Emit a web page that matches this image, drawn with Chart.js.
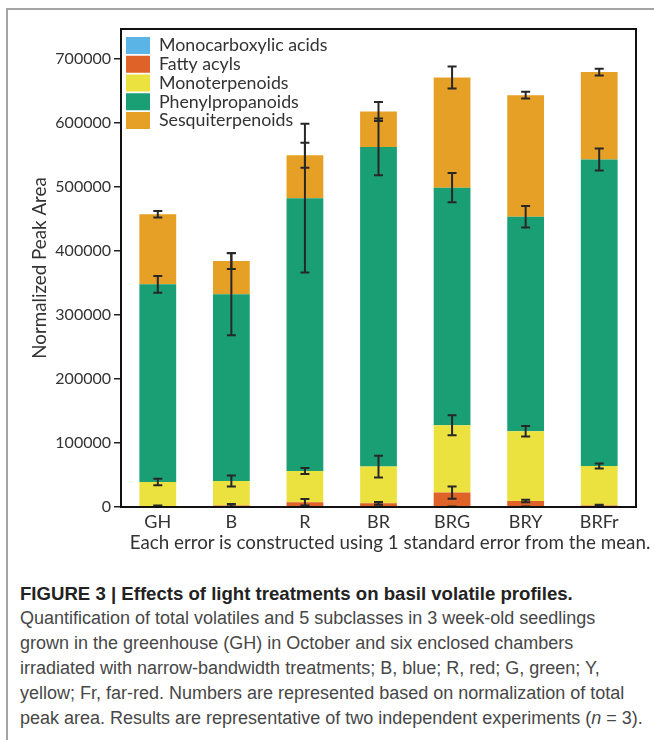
<!DOCTYPE html>
<html>
<head>
<meta charset="utf-8">
<script src="https://cdn.jsdelivr.net/npm/chart.js@4.4.1/dist/chart.umd.min.js"></script>
<style>
html,body{margin:0;padding:0;background:#fff;}
#page{position:relative;width:654px;height:740px;overflow:hidden;background:#fff;}
#frame{position:absolute;left:6px;top:8px;width:700px;height:760px;border-left:2px solid #a4a4a4;border-top:2px solid #a4a4a4;}
#wrap{position:absolute;left:0;top:0;width:654px;height:555px;}
#note{position:absolute;left:90px;width:600px;top:531px;text-align:center;font-family:Lato,sans-serif;font-size:18.8px;line-height:22px;color:#333;white-space:nowrap;}
#caption{position:absolute;left:20px;top:581.5px;font-family:"Liberation Sans",Arial,sans-serif;font-size:18px;line-height:24.9px;color:#474747;white-space:nowrap;}
#caption span{display:block;height:24.9px;}
#caption .t{font-weight:bold;color:#222;font-size:18.6px;}
</style>
</head>
<body>
<div id="page">
  <div id="frame"></div>
  <div id="wrap"><canvas id="c" width="654" height="555"></canvas></div>
  <div id="note">Each error is constructed using 1 standard error from the mean.</div>
  <div id="caption"><span class="t">FIGURE 3 | Effects of light treatments on basil volatile profiles.</span><span class="l">Quantification of total volatiles and 5 subclasses in 3 week-old seedlings</span><span class="l">grown in the greenhouse (GH) in October and six enclosed chambers</span><span class="l">irradiated with narrow-bandwidth treatments; B, blue; R, red; G, green; Y,</span><span class="l">yellow; Fr, far-red. Numbers are represented based on normalization of total</span><span class="l">peak area. Results are representative of two independent experiments (<i>n</i> = 3).</span></div>
</div>
<script>
// ---- data ----
const categories = ['GH', 'B', 'R', 'BR', 'BRG', 'BRY', 'BRFr'];
const seriesNames = ['Monocarboxylic acids', 'Fatty acyls', 'Monoterpenoids', 'Phenylpropanoids', 'Sesquiterpenoids'];

const monocarboxylicAcids = [300, 300, 300, 300, 300, 300, 300];
const fattyAcyls          = [700, 2200, 7000, 5500, 22200, 9100, 1900];
const monoterpenoids      = [38000, 38000, 49000, 57300, 105200, 108900, 61800];
const phenylpropanoids    = [308500, 291500, 425700, 498900, 370700, 334800, 478200];
const sesquiterpenoids    = [109500, 52000, 67000, 55200, 171900, 189700, 136500];

const errMonocarboxylicAcids = [300, 300, 300, 300, 300, 300, 300];
const errFattyAcyls          = [1500, 2300, 5000, 2000, 9600, 2000, 1500];
const errMonoterpenoids      = [5000, 8600, 4700, 17000, 15600, 8300, 3900];
const errPhenylpropanoids    = [13000, 64000, 116000, 44300, 22700, 16700, 17200];
const errSesquiterpenoids    = [5000, 12500, 19500, 14800, 17000, 5200, 5200];

const yTickValues = [0, 100000, 200000, 300000, 400000, 500000, 600000, 700000];
const yAxisMax = 746000;

const seriesColors = ['#5AB4E6', '#DF6228', '#EBE23F', '#1A9E74', '#E7A026'];

const seriesValues = [monocarboxylicAcids, fattyAcyls, monoterpenoids, phenylpropanoids, sesquiterpenoids];
const seriesErrors = [errMonocarboxylicAcids, errFattyAcyls, errMonoterpenoids, errPhenylpropanoids, errSesquiterpenoids];

const FONT = 'Lato, sans-serif';
const TXT = '#333333';

const errorBars = {
  id: 'errorBars',
  afterDatasetsDraw(chart) {
    const {ctx, chartArea: ca, scales: {x, y}} = chart;
    ctx.save();
    ctx.beginPath();
    ctx.rect(ca.left, ca.top - 30, ca.right - ca.left, ca.bottom - ca.top + 30);
    ctx.clip();
    ctx.strokeStyle = '#272727';
    ctx.lineWidth = 2;
    categories.forEach((c, i) => {
      let cum = 0;
      const px = x.getPixelForValue(i);
      seriesValues.forEach((vals, d) => {
        cum += vals[i];
        const e = seriesErrors[d][i];
        const yt = y.getPixelForValue(cum + e);
        const yb = y.getPixelForValue(cum - e);
        ctx.beginPath();
        ctx.moveTo(px, yt); ctx.lineTo(px, yb);
        ctx.moveTo(px - 4.5, yt); ctx.lineTo(px + 4.5, yt);
        ctx.moveTo(px - 4.5, yb); ctx.lineTo(px + 4.5, yb);
        ctx.stroke();
      });
    });
    ctx.restore();
  }
};

const frame = {
  id: 'frame',
  afterDraw(chart) {
    const {ctx, chartArea: ca} = chart;
    ctx.save();
    ctx.strokeStyle = '#111';
    ctx.lineWidth = 2;
    ctx.strokeRect(ca.left, ca.top, ca.right - ca.left, ca.bottom - ca.top);
    ctx.restore();
  }
};

const legendPlacer = {
  id: 'legendPlacer',
  afterLayout(chart) {
    const lg = chart.legend;
    const ca = chart.chartArea;
    const pad = lg.options.labels.padding;
    lg.left = ca.left + 5 - pad;
    lg.top = ca.top + 7.5 - pad;
    lg.width = 330; lg.height = 110;
    lg.right = lg.left + lg.width;
    lg.bottom = lg.top + lg.height;
  }
};

new Chart(document.getElementById('c'), {
  type: 'bar',
  data: {
    labels: categories,
    datasets: seriesNames.map((name, d) => ({
      label: name,
      data: seriesValues[d],
      backgroundColor: seriesColors[d],
      borderWidth: 0,
      barPercentage: 0.5,
      categoryPercentage: 1.0
    }))
  },
  options: {
    responsive: false,
    animation: false,
    devicePixelRatio: 1,
    layout: {padding: {left: 0, top: 29, right: 18, bottom: 0}},
    plugins: {
      legend: {
        position: 'chartArea',
        align: 'start',
        labels: {
          boxWidth: 24, boxHeight: 17, padding: 1,
          color: TXT,
          font: {family: FONT, size: 17.8}
        }
      },
      tooltip: {enabled: false}
    },
    scales: {
      x: {
        stacked: true,
        grid: {display: false, drawTicks: false},
        border: {display: false},
        ticks: {color: TXT, font: {family: FONT, size: 18}, padding: 4},
        afterFit(s) { s.height = 48; }
      },
      y: {
        stacked: true,
        min: 0,
        max: yAxisMax,
        afterBuildTicks(s) { s.ticks = yTickValues.map(v => ({value: v})); },
        grid: {drawOnChartArea: false, drawTicks: true, tickLength: 7, color: '#222', lineWidth: 1.5},
        border: {display: false},
        ticks: {color: TXT, font: {family: FONT, size: 16}, padding: 3, callback: v => String(v)},
        title: {display: true, text: 'Normalized Peak Area', color: TXT, font: {family: FONT, size: 18.8}, padding: {top: 29, bottom: 0}},
        afterFit(s) { s.width = 121; }
      }
    }
  },
  plugins: [errorBars, frame, legendPlacer]
});
</script>
</body>
</html>
